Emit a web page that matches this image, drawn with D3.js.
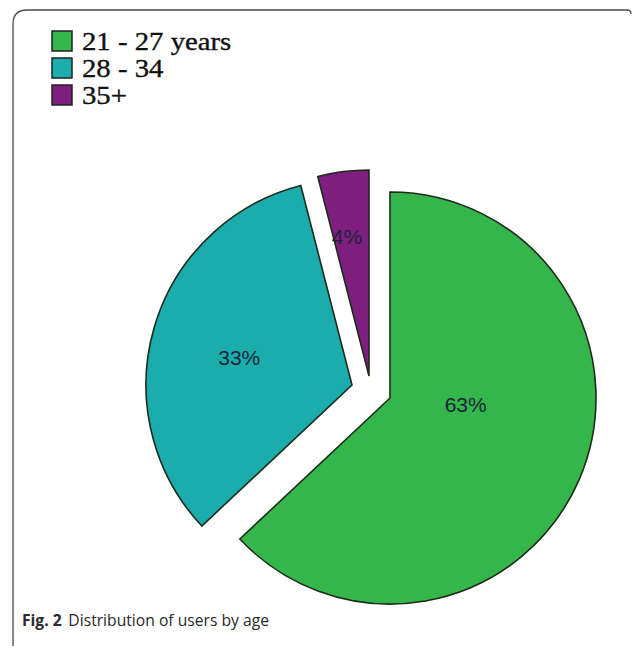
<!DOCTYPE html>
<html>
<head>
<meta charset="utf-8">
<script src="https://cdn.jsdelivr.net/npm/d3@7"></script>
<style>
  html, body { margin: 0; padding: 0; background: #fff; }
  svg { display: block; }
</style>
</head>
<body>
<svg id="chart" width="633" height="649"></svg>
<script>
// ---- data ----
const categories = ["21 - 27 years", "28 - 34", "35+"];
const values = [63, 33, 4];
const valueLabels = ["63%", "33%", "4%"];
const colors = ["#35b64a", "#1aadab", "#7e1f80"];
const captionBold = "Fig. 2";
const captionText = "Distribution of users by age";

// ---- layout (not data) ----
const W = 633, H = 649;
const center = [360, 385];
const radius = 206;
// per-slice explode offsets (pixels)
const sliceOffsets = [[30, 13], [-8, 0], [9, -9]];
// label placement: angle (deg, clockwise from top) and distance from slice apex
const labelPlace = [[95, 76], [283.5, 116], [351, 141]];

const svg = d3.select("#chart");

// frame
svg.append("path")
  .attr("d", "M13,646 L13,24 Q13,10 27,10 L627,10 Q631,10 631,14")
  .attr("fill", "none")
  .attr("stroke", "#4a4a4a")
  .attr("stroke-width", 1.3);

const pie = d3.pie().sort(null).value(d => d)(values);
const arc = d3.arc().innerRadius(0).outerRadius(radius);

const g = svg.append("g").attr("transform", `translate(${center[0]},${center[1]})`);

const slices = g.selectAll("g.slice").data(pie).enter().append("g")
  .attr("class", "slice")
  .attr("transform", (d, i) => `translate(${sliceOffsets[i][0]},${sliceOffsets[i][1]})`);

slices.append("path")
  .attr("d", arc)
  .attr("fill", (d, i) => colors[i])
  .attr("stroke", "#1c2a1c")
  .attr("stroke-width", 1.6)
  .attr("stroke-linejoin", "miter");

slices.append("text")
  .attr("x", (d, i) => labelPlace[i][1] * Math.sin(labelPlace[i][0] * Math.PI / 180))
  .attr("y", (d, i) => -labelPlace[i][1] * Math.cos(labelPlace[i][0] * Math.PI / 180))
  .attr("text-anchor", "middle")
  .attr("dominant-baseline", "central")
  .attr("font-family", "Liberation Sans, Arial, sans-serif")
  .attr("font-size", 21)
  .attr("fill", "#1a2438")
  .text((d, i) => valueLabels[i]);

// legend
const legend = svg.append("g").attr("transform", "translate(52,31)");
const items = legend.selectAll("g").data(categories).enter().append("g")
  .attr("transform", (d, i) => `translate(0,${i * 27})`);
items.append("rect")
  .attr("x", 0).attr("y", 0).attr("width", 20).attr("height", 20)
  .attr("fill", (d, i) => colors[i])
  .attr("stroke", "#222").attr("stroke-width", 1.5);
items.append("text")
  .attr("transform", "translate(30,19) scale(1.15,1)")
  .attr("font-family", "Liberation Serif, Times New Roman, serif")
  .attr("font-size", 25)
  .attr("fill", "#111")
  .attr("stroke", "#111")
  .attr("stroke-width", 0.35)
  .text(d => d);

// caption
const cap = svg.append("text")
  .attr("transform", "translate(22,626) scale(0.95,1)")
  .attr("font-family", "Open Sans, Noto Sans, sans-serif")
  .attr("font-size", 16.5)
  .attr("fill", "#2a2a2a");
cap.append("tspan").attr("font-weight", "bold").text(captionBold);
cap.append("tspan").attr("dx", 7).text(captionText);
</script>
</body>
</html>
